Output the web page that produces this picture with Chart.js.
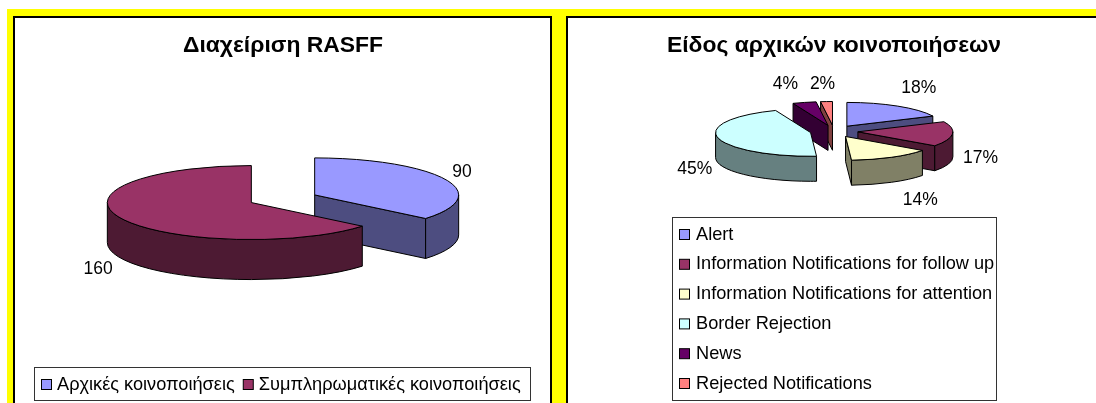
<!DOCTYPE html>
<html><head><meta charset="utf-8">
<script src="https://cdn.jsdelivr.net/npm/chart.js@4"></script>
<style>
html,body{margin:0;padding:0;background:#fff;width:1096px;height:403px;overflow:hidden}
#frame{position:absolute;left:7px;top:9px;width:1089px;height:394px;background:#ffff00}
.panel{position:absolute;top:16px;height:387px;background:#fff;box-sizing:border-box;border:solid #000;border-width:2px 2px 0 2px}
.panel canvas{position:absolute;left:0;top:1px;display:block}
</style></head><body>
<div id="frame"></div>
<div class="panel" style="left:13px;width:539px"><canvas id="c1" width="539" height="384"></canvas></div>
<div class="panel" style="left:566px;width:539px"><canvas id="c2" width="539" height="384"></canvas></div>
<script>
const titleLeft = 'Διαχείριση RASFF';
const categoriesLeft = ['Αρχικές κοινοποιήσεις', 'Συμπληρωματικές κοινοποιήσεις'];
const valuesLeft = [90, 160];
const labelsLeft = ['90', '160'];
const colorsLeft = ['#9999FF', '#993366'];
const wallsLeft = ['#4D4D80', '#4D1A33'];

const titleRight = 'Είδος αρχικών κοινοποιήσεων';
const categoriesRight = ['Alert', 'Information Notifications for follow up', 'Information Notifications for attention', 'Border Rejection', 'News', 'Rejected Notifications'];
const valuesRight = [18, 17, 14, 45, 4, 2];
const labelsRight = ['18%', '17%', '14%', '45%', '4%', '2%'];
const colorsRight = ['#9999FF', '#993366', '#FFFFCC', '#CCFFFF', '#660066', '#FF8080'];
const wallsRight = ['#4D4D80', '#4D1A33', '#808066', '#668080', '#330033', '#804040'];

const FONT = '"Liberation Sans", Arial, sans-serif';

const pie3d = {
  id: 'pie3d',
  beforeDatasetDraw(chart, args, o) {
    const ctx = chart.ctx, arcs = args.meta.data;
    const geo = arcs.map((a, i) => {
      const mid = (a.startAngle + a.endAngle) / 2;
      return { a, i, s: a.startAngle, e: a.endAngle, R: a.outerRadius,
        cx: a.x + Math.cos(mid) * o.explode,
        cy: a.y + Math.sin(mid) * o.explode * o.tilt };
    });
    const pt = (g, t) => [g.cx + Math.cos(t) * g.R, g.cy + Math.sin(t) * g.R * o.tilt];
    ctx.save();
    ctx.lineWidth = 1;
    ctx.strokeStyle = '#000';
    ctx.lineJoin = 'round';
    // side walls, back to front
    [...geo].sort((p, q) => p.cy - q.cy).forEach(g => {
      ctx.fillStyle = o.walls[g.i];
      const quad = t => {
        const [x, y] = pt(g, t);
        ctx.beginPath();
        ctx.moveTo(g.cx, g.cy); ctx.lineTo(x, y);
        ctx.lineTo(x, y + o.depth); ctx.lineTo(g.cx, g.cy + o.depth);
        ctx.closePath(); ctx.fill(); ctx.stroke();
      };
      if (Math.cos(g.s) < -1e-6) quad(g.s);
      if (Math.cos(g.e) > 1e-6) quad(g.e);
      const lo = Math.max(g.s, 0), hi = Math.min(g.e, Math.PI);
      if (hi > lo) {
        ctx.beginPath();
        ctx.ellipse(g.cx, g.cy, g.R, g.R * o.tilt, 0, lo, hi);
        ctx.ellipse(g.cx, g.cy + o.depth, g.R, g.R * o.tilt, 0, hi, lo, true);
        ctx.closePath(); ctx.fill(); ctx.stroke();
      }
    });
    // top faces are the library's own arc elements, squashed into the tilt
    geo.forEach(g => {
      ctx.save();
      ctx.translate(g.cx, g.cy);
      ctx.scale(1, o.tilt);
      ctx.translate(-g.a.x, -g.a.y);
      g.a.draw(ctx);
      ctx.restore();
      ctx.beginPath();
      ctx.moveTo(g.cx, g.cy);
      ctx.ellipse(g.cx, g.cy, g.R, g.R * o.tilt, 0, g.s, g.e);
      ctx.closePath();
      ctx.stroke();
    });
    // value labels
    ctx.fillStyle = '#000';
    ctx.font = o.labelFont + ' ' + FONT;
    ctx.textAlign = 'center';
    ctx.textBaseline = 'middle';
    geo.forEach(g => {
      const [x, y] = pt(g, (g.s + g.e) / 2);
      ctx.fillText(o.labels[g.i], x + o.nudge[g.i][0], y + o.nudge[g.i][1]);
    });
    ctx.restore();
    return false;
  },
  afterDraw(chart, args, o) {
    const ctx = chart.ctx, L = o.legend, cols = chart.data.datasets[0].backgroundColor;
    ctx.save();
    ctx.strokeStyle = '#333'; ctx.lineWidth = 1;
    ctx.strokeRect(L.x + .5, L.y + .5, L.w, L.h);
    ctx.font = L.font + ' ' + FONT;
    ctx.textBaseline = 'middle';
    ctx.textAlign = 'left';
    let x = L.x + L.padX, y = L.y + L.padY;
    chart.data.labels.forEach((t, i) => {
      ctx.fillStyle = cols[i];
      ctx.fillRect(x + .5, y - L.sw / 2 + .5, L.sw, L.sw);
      ctx.strokeStyle = '#000';
      ctx.strokeRect(x + .5, y - L.sw / 2 + .5, L.sw, L.sw);
      ctx.fillStyle = '#000';
      ctx.fillText(t, x + L.textGap, y + .5);
      if (L.horizontal) x += L.textGap + ctx.measureText(t).width + L.itemGap;
      else y += L.rowH;
    });
    ctx.restore();
  }
};

function build(id, title, labels, values, colors, cfg) {
  new Chart(document.getElementById(id), {
    type: 'pie',
    plugins: [pie3d],
    data: { labels, datasets: [{ data: values, backgroundColor: colors, borderWidth: 0, radius: cfg.radius, clip: false }] },
    options: {
      responsive: false, animation: false,
      layout: { padding: cfg.padding },
      plugins: {
        legend: { display: false }, tooltip: { enabled: false },
        title: { display: true, text: title, color: '#000', padding: { top: 13, bottom: 10 },
                 font: { family: FONT, size: 22.9, weight: 'bold', lineHeight: 1.2 } },
        pie3d: cfg.pie
      }
    }
  });
}

build('c1', titleLeft, categoriesLeft, valuesLeft, colorsLeft, {
  radius: 144,
  padding: { left: 0, right: 3, top: 0, bottom: 75 },
  pie: { tilt: 0.257, depth: 40, explode: 35, walls: wallsLeft, labels: labelsLeft, labelFont: '17.5px',
    nudge: [[17, -7], [-23, 51]],
    legend: { x: 19, y: 348, w: 496, h: 33, padX: 7, padY: 17, sw: 10, textGap: 16, itemGap: 8, horizontal: true, rowH: 0, font: '18.2px' } }
});
build('c2', titleRight, categoriesRight, valuesRight, colorsRight, {
  radius: 95,
  padding: { left: 0, right: 7, top: 0, bottom: 210 },
  pie: { tilt: 0.25, depth: 25, explode: 24, walls: wallsRight, labels: labelsRight, labelFont: '17.5px',
    nudge: [[21, -18], [28, 24], [29, 43], [-23, 31], [-19, -18], [-4, -17]],
    legend: { x: 104, y: 198, w: 324, h: 183, padX: 7, padY: 17, sw: 10, textGap: 17, itemGap: 0, horizontal: false, rowH: 29.8, font: '18.2px' } }
});
</script>
</body></html>
